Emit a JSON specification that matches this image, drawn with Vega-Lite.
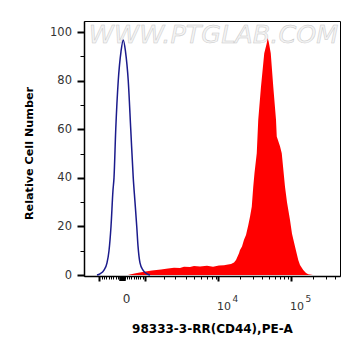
{
  "$schema": "https://vega.github.io/schema/vega-lite/v6.json",
  "width": 256,
  "height": 255,
  "autosize": "none",
  "padding": {"left": 84, "top": 21, "right": 21, "bottom": 80},
  "background": "white",
  "config": {
    "view": {"stroke": "black", "strokeWidth": 1},
    "axis": {"grid": false, "domainColor": "black", "domainWidth": 1.5, "tickColor": "black", "labelColor": "#333333", "labelFont": "DejaVu Sans", "titleFont": "DejaVu Sans", "titleColor": "black"}
  },
  "datasets": {
    "red": [
      {"channel": 176, "count": 0}, {"channel": 188, "count": 0.3}, {"channel": 212, "count": 0.8}, {"channel": 240, "count": 1.4},
      {"channel": 272, "count": 1.9}, {"channel": 308, "count": 2.3}, {"channel": 336, "count": 2.7}, {"channel": 360, "count": 3.0},
      {"channel": 384, "count": 2.9}, {"channel": 400, "count": 3.4}, {"channel": 424, "count": 3.3}, {"channel": 440, "count": 3.7},
      {"channel": 464, "count": 3.5}, {"channel": 492, "count": 3.8}, {"channel": 516, "count": 3.4}, {"channel": 540, "count": 3.9},
      {"channel": 560, "count": 4.0}, {"channel": 576, "count": 4.3}, {"channel": 588, "count": 4.5}, {"channel": 600, "count": 5.2},
      {"channel": 608, "count": 6.2}, {"channel": 620, "count": 9.0}, {"channel": 624, "count": 10.3}, {"channel": 632, "count": 11.7},
      {"channel": 640, "count": 14.5}, {"channel": 648, "count": 16.5}, {"channel": 657, "count": 20.5}, {"channel": 664, "count": 24},
      {"channel": 671, "count": 28.1}, {"channel": 677, "count": 36.4}, {"channel": 682, "count": 42}, {"channel": 691, "count": 50.1},
      {"channel": 697, "count": 63.9}, {"channel": 708, "count": 77.6}, {"channel": 721, "count": 91.3}, {"channel": 730, "count": 95},
      {"channel": 735, "count": 97.5}, {"channel": 739, "count": 96}, {"channel": 747, "count": 91.3}, {"channel": 757, "count": 77.6},
      {"channel": 768, "count": 63.9}, {"channel": 771, "count": 57}, {"channel": 776, "count": 55.5}, {"channel": 784, "count": 53},
      {"channel": 791, "count": 50.1}, {"channel": 804, "count": 36.4}, {"channel": 812, "count": 30}, {"channel": 824, "count": 22.7},
      {"channel": 832, "count": 17}, {"channel": 844, "count": 11.7}, {"channel": 857, "count": 6.2}, {"channel": 864, "count": 4.1},
      {"channel": 877, "count": 2.1}, {"channel": 888, "count": 0.8}, {"channel": 897, "count": 0.3}, {"channel": 916, "count": 0}
    ],
    "blue": [
      {"channel": 52, "count": 0}, {"channel": 64, "count": 0.5}, {"channel": 80, "count": 2}, {"channel": 92, "count": 5},
      {"channel": 100, "count": 10}, {"channel": 108, "count": 20}, {"channel": 116, "count": 35}, {"channel": 120, "count": 40},
      {"channel": 127, "count": 60}, {"channel": 137, "count": 80}, {"channel": 148, "count": 92}, {"channel": 157, "count": 96.8},
      {"channel": 166, "count": 92}, {"channel": 177, "count": 80}, {"channel": 187, "count": 60}, {"channel": 197, "count": 40},
      {"channel": 204, "count": 30}, {"channel": 211, "count": 20}, {"channel": 216, "count": 12}, {"channel": 224, "count": 5},
      {"channel": 236, "count": 2}, {"channel": 252, "count": 0.5}, {"channel": 264, "count": 0}
    ],
    "mark": [{"channel": 518, "count": 98.7, "text": "WWW.PTGLAB.COM"}]
  },
  "resolve": {"axis": {"x": "independent", "y": "independent"}},
  "layer": [
    {
      "data": {"name": "mark"},
      "mark": {"type": "text", "font": "DejaVu Sans", "fontSize": 25.5, "fontStyle": "italic", "fill": "#f4f4f4", "stroke": "#c8c8c8", "strokeWidth": 0.5, "align": "center", "baseline": "middle"},
      "encoding": {
        "x": {"field": "channel", "type": "quantitative", "axis": null, "scale": {"domain": [0, 1024], "nice": false, "zero": false}},
        "y": {"field": "count", "type": "quantitative", "axis": null, "scale": {"domain": [-0.4, 104.6], "nice": false, "zero": false}},
        "text": {"field": "text"}
      }
    },
    {
      "data": {"name": "red"},
      "mark": {"type": "area", "color": "#ff0000", "interpolate": "linear"},
      "encoding": {
        "x": {"field": "channel", "type": "quantitative", "scale": {"domain": [0, 1024], "nice": false, "zero": false},
          "axis": {
            "orient": "bottom",
            "values": [61, 70, 80, 89, 98, 107, 116, 126, 135, 144, 153, 162, 171, 180, 189, 198, 207, 216, 225, 234, 243, 320, 364, 407, 440, 468, 493, 513, 526, 536, 624, 675, 712, 740, 763, 783, 800, 814, 828, 916, 968, 1004],
            "labelExpr": "datum.value == 153 ? '0' : (datum.value == 536 || datum.value == 828) ? '10' : ''",
            "labelOverlap": false, "labelFlush": false, "labelBound": false,
            "labelAlign": "left", "labelBaseline": "alphabetic",
            "labelFontSize": {"expr": "datum.value == 153 ? 12 : 11"},
            "labelPadding": {"expr": "datum.value == 153 ? 21.5 : 28.3"},
            "labelOffset": {"expr": "datum.value == 153 ? 0 : -1.5"},
            "tickSize": {"expr": "datum.value == 153 ? 4.5 : (indexof([61, 243, 536, 828], datum.value) >= 0 ? 5 : 3)"},
            "tickWidth": {"expr": "datum.value == 153 ? 6.5 : (indexof([61, 243, 536, 828], datum.value) >= 0 ? 2 : 1)"},
            "title": "98333-3-RR(CD44),PE-A",
            "titleFontSize": 12, "titleFontWeight": "bold",
            "titleX": 128, "titleY": 56.7, "titleAlign": "center", "titleBaseline": "alphabetic"
          }
        },
        "y": {"field": "count", "type": "quantitative", "scale": {"domain": [-0.4, 104.6], "nice": false, "zero": false},
          "axis": {
            "values": [0, 10, 20, 30, 40, 50, 60, 70, 80, 90, 100],
            "labelExpr": "datum.value % 20 == 0 ? datum.label : ''",
            "labelFontSize": 11.5, "labelPadding": 5.5, "labelOverlap": false, "labelFlush": false,
            "tickSize": {"expr": "datum.value % 20 == 0 ? 7 : 4"},
            "tickWidth": {"expr": "datum.value % 20 == 0 ? 2 : 1"},
            "title": "Relative Cell Number",
            "titleFontSize": 11.2, "titleFontWeight": "bold", "titleAngle": 270,
            "titleX": -52, "titleY": 132, "titleAlign": "center", "titleBaseline": "alphabetic"
          }
        }
      }
    },
    {
      "data": {"name": "blue"},
      "mark": {"type": "line", "color": "#1b1b8c", "strokeWidth": 1.5, "interpolate": "monotone"},
      "encoding": {
        "x": {"field": "channel", "type": "quantitative", "scale": {"domain": [0, 1024], "nice": false, "zero": false},
          "axis": {
            "orient": "bottom", "domain": false, "ticks": false, "title": null,
            "values": [536, 828],
            "labelExpr": "datum.value == 536 ? '4' : '5'",
            "labelOverlap": false, "labelFlush": false, "labelBound": false,
            "labelAlign": "left", "labelBaseline": "alphabetic", "labelFontSize": 9,
            "labelPadding": 25.3, "labelOffset": 14
          }
        },
        "y": {"field": "count", "type": "quantitative", "axis": null, "scale": {"domain": [-0.4, 104.6], "nice": false, "zero": false}}
      }
    }
  ]
}
